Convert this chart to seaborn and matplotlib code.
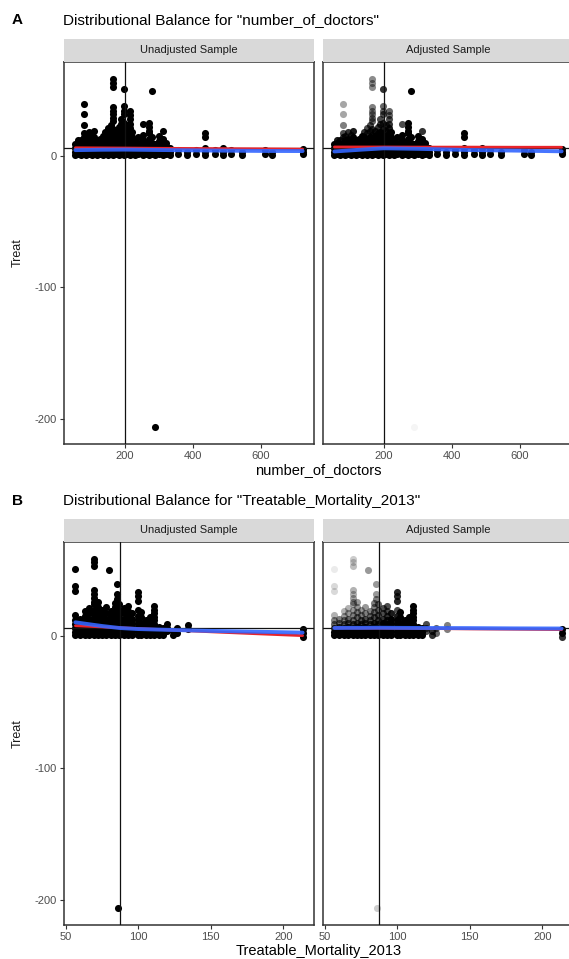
import matplotlib
matplotlib.use("Agg")
import matplotlib.pyplot as plt
import pandas as pd
import seaborn as sns

# ---------------------------------------------------------------------------
# Panel A: number_of_doctors vs Treat.  Each entry of doctors_x is a column of
# points at that x; doctors_treat holds the Treat values stacked in the column
# and doctors_weight the balancing weight of every point (used as opacity in
# the adjusted sample).
# ---------------------------------------------------------------------------
doctors_x = [54, 62, 70, 78, 86, 94, 102, 110, 118, 126, 134, 142, 150, 158,
             165, 174, 182, 190, 198, 206, 215, 222, 230, 240, 252, 262, 272,
             280, 289, 300, 313, 322, 334, 357, 382, 411, 436, 465, 490, 514,
             544, 613, 635, 724]
doctors_treat = [
    [0.5, 3, 6, 9],
    [1, 4, 7, 10, 12],
    [0.5, 3, 6, 9, 12],
    [1, 4, 7, 10, 14, 17, 23, 31.5, 39],
    [0.5, 3, 6, 9, 12, 15],
    [1, 4, 7, 10, 13, 18],
    [0.5, 3, 6, 9, 12, 16],
    [1, 4, 7, 10, 14, 19],
    [0.5, 3, 6, 9, 12],
    [1, 4, 7, 10, 13],
    [0.5, 3, 6, 9, 12, 15],
    [1, 4, 7, 10, 14, 18],
    [0.5, 3, 6, 9, 13, 17, 21],
    [1, 4, 7, 10, 14, 19, 23],
    [0.5, 3, 6, 9, 12, 16, 20, 26.5, 29, 31.5, 34, 37, 52, 55, 58],
    [1, 4, 7, 11, 15, 19],
    [0.5, 3, 6, 9, 13, 17, 22],
    [1, 4, 7, 10, 14, 18, 24, 28],
    [0.5, 3, 6, 9, 12, 16, 20, 25, 31.5, 34, 38, 50.5],
    [1, 4, 7, 10, 14, 19, 23],
    [0.5, 3, 6, 9, 13, 17, 21, 24, 28, 31, 34],
    [1, 4, 7, 10, 14, 18],
    [0.5, 3, 6, 9, 12],
    [1, 4, 7, 10, 14],
    [0.5, 3, 6, 9, 12, 16, 24],
    [1, 4, 7, 10],
    [0.5, 3, 6, 9, 13, 17, 19, 22, 25],
    [1, 4, 7, 10, 14, 49],
    [0.5, 3, 6, 9, -206],
    [1, 4, 7, 11, 15],
    [0.5, 3, 6, 9, 13, 19],
    [1, 4, 7, 10],
    [0.5, 3, 6],
    [1, 4],
    [0.5, 3],
    [1, 4],
    [0.5, 3, 6, 14, 17],
    [1, 4],
    [0.5, 3, 6],
    [1, 4],
    [0.5, 3],
    [1, 4],
    [0.5, 3],
    [1, 3, 5],
]
doctors_weight = [
    [1, 1, 1, 1],
    [1, 1, 1, 1, 0.9],
    [1, 1, 1, 1, 0.9],
    [1, 1, 1, 1, 0.8, 0.7, 0.5, 0.35, 0.35],
    [1, 1, 1, 1, 0.9, 0.8],
    [1, 1, 1, 1, 1, 0.8],
    [1, 1, 1, 1, 1, 0.8],
    [1, 1, 1, 1, 1, 0.9],
    [1, 1, 1, 1, 1],
    [1, 1, 1, 1, 1],
    [1, 1, 1, 1, 1, 1],
    [1, 1, 1, 1, 1, 0.8],
    [1, 1, 1, 1, 1, 0.8, 0.7],
    [1, 1, 1, 1, 1, 0.8, 0.7],
    [1, 1, 1, 1, 1, 0.9, 0.8, 0.6, 0.6, 0.55, 0.5, 0.5, 0.45, 0.45, 0.45],
    [1, 1, 1, 1, 1, 0.9],
    [1, 1, 1, 1, 1, 0.9, 0.8],
    [1, 1, 1, 1, 1, 1, 0.8, 0.7],
    [1, 1, 1, 1, 1, 1, 0.9, 0.8, 0.7, 0.6, 0.6, 0.8],
    [1, 1, 1, 1, 1, 0.9, 0.8],
    [1, 1, 1, 1, 1, 1, 0.9, 0.8, 0.7, 0.6, 0.6],
    [1, 1, 1, 1, 1, 1],
    [1, 1, 1, 1, 1],
    [1, 1, 1, 1, 1],
    [1, 1, 1, 1, 1, 1, 0.7],
    [1, 1, 1, 1],
    [1, 1, 1, 1, 1, 1, 1, 1, 1],
    [1, 1, 1, 1, 1, 1],
    [1, 1, 1, 1, 0.04],
    [1, 1, 1, 1, 1],
    [1, 1, 1, 1, 1, 0.8],
    [1, 1, 1, 1],
    [1, 1, 1],
    [1, 1],
    [1, 1],
    [1, 1],
    [1, 1, 1, 1, 1],
    [1, 1],
    [1, 1, 1],
    [1, 1],
    [1, 1],
    [1, 1],
    [1, 1],
    [1, 1, 1],
]

# ---------------------------------------------------------------------------
# Panel B: Treatable_Mortality_2013 vs Treat, same layout as above.
# ---------------------------------------------------------------------------
mortality_x = [56.6, 60, 63, 66, 69.7, 72, 75, 78, 79.6, 81, 84, 85, 85.8, 87,
               90, 93, 96, 99.8, 102, 105, 108, 111, 114, 117, 120, 124, 127,
               134, 213.4]
mortality_treat = [
    [0.5, 3, 6, 9, 12, 16, 33.7, 37.5, 51],
    [1, 4, 7, 10, 13],
    [0.5, 3, 6, 9, 12, 15, 19],
    [1, 4, 7, 10, 13, 17, 21],
    [0.5, 3, 6, 9, 12, 16, 20, 24, 26, 29, 32, 35, 52.7, 56, 58],
    [1, 4, 7, 10, 14, 18, 22, 26],
    [0.5, 3, 6, 9, 12, 16, 20],
    [1, 4, 7, 10, 13, 17, 22],
    [49.7],
    [0.5, 3, 6, 9, 12, 15, 19],
    [1, 4, 7, 10, 14, 18, 22, 25],
    [28, 32, 39.5],
    [-206],
    [0.5, 3, 6, 9, 12, 16, 20, 24],
    [1, 4, 7, 10, 13, 17, 21],
    [0.5, 3, 6, 9, 12, 15, 19, 23],
    [1, 4, 7, 10, 13, 17],
    [0.5, 3, 6, 9, 12, 15, 19.8, 26.6, 30, 33],
    [1, 4, 7, 10, 14, 18],
    [0.5, 3, 6, 9, 12],
    [1, 4, 7, 10, 14],
    [0.5, 3, 6, 9, 12, 14, 17, 20, 23],
    [1, 4, 7],
    [0.5, 3, 6],
    [4, 6, 9],
    [1, 4],
    [2, 6],
    [5, 8.5],
    [-1, 2, 5],
]
mortality_weight = [
    [1, 1, 0.8, 0.6, 0.5, 0.3, 0.15, 0.15, 0.08],
    [1, 1, 0.8, 0.6, 0.5],
    [1, 1, 0.9, 0.7, 0.5, 0.4, 0.3],
    [1, 1, 0.9, 0.7, 0.6, 0.4, 0.3],
    [1, 1, 0.9, 0.8, 0.6, 0.5, 0.4, 0.35, 0.4, 0.35, 0.3, 0.3, 0.25, 0.2, 0.2],
    [1, 1, 0.9, 0.8, 0.6, 0.5, 0.4, 0.4],
    [1, 1, 1, 0.8, 0.7, 0.5, 0.4],
    [1, 1, 1, 0.8, 0.7, 0.5, 0.4],
    [0.4],
    [1, 1, 1, 0.8, 0.7, 0.6, 0.5],
    [1, 1, 1, 0.9, 0.7, 0.6, 0.5, 0.5],
    [0.5, 0.4, 0.4],
    [0.2],
    [1, 1, 1, 0.9, 0.8, 0.7, 0.6, 0.6],
    [1, 1, 1, 1, 0.8, 0.7, 0.7],
    [1, 1, 1, 1, 0.9, 0.8, 0.7, 0.7],
    [1, 1, 1, 1, 1, 0.9],
    [1, 1, 1, 1, 1, 0.9, 0.7, 0.85, 0.85, 0.85],
    [1, 1, 1, 1, 1, 1],
    [1, 1, 1, 1, 1],
    [1, 1, 1, 1, 1],
    [1, 1, 1, 1, 1, 1, 1, 1, 1],
    [1, 1, 1],
    [1, 1, 1],
    [0.7, 0.7, 0.7],
    [0.8, 0.8],
    [0.6, 0.6],
    [0.5, 0.5],
    [0.8, 1, 1],
]

# Reference lines: mean of each covariate and of Treat
doctors_mean = 201
mortality_mean = 87.5
treat_mean = 5.9

# Fitted curves (red: linear fit, blue: smooth) for each panel
doctors_fit_x = [54, 130, 200, 300, 450, 600, 724]
doctors_lm_unadj = [6.0, 5.9, 5.8, 5.6, 5.4, 5.2, 5.0]
doctors_smooth_unadj = [4.2, 4.5, 4.6, 4.3, 3.9, 3.6, 3.5]
doctors_lm_adj = [6.6, 6.6, 6.6, 6.5, 6.5, 6.4, 6.4]
doctors_smooth_adj = [3.2, 4.5, 5.6, 5.2, 4.3, 3.8, 3.3]

mortality_fit_x = [56.6, 65, 75, 87, 100, 120, 150, 180, 213.4]
mortality_lm_unadj = [7.7, 7.3, 6.8, 6.2, 5.6, 4.6, 3.1, 1.7, 0.2]
mortality_smooth_unadj = [10.3, 9.0, 7.5, 6.0, 5.2, 4.6, 3.8, 3.2, 2.5]
mortality_lm_adj = [6.0, 6.0, 5.9, 5.9, 5.8, 5.6, 5.3, 5.1, 4.8]
mortality_smooth_adj = [6.0, 6.1, 6.1, 6.2, 6.1, 6.0, 5.9, 5.7, 5.6]

titles = ['Distributional Balance for "number_of_doctors"',
          'Distributional Balance for "Treatable_Mortality_2013"']
panel_tags = ["A", "B"]
facet_labels = ["Unadjusted Sample", "Adjusted Sample"]
y_ticks = [-200, -100, 0]
doctors_ticks = [200, 400, 600]
mortality_ticks = [50, 100, 150, 200]


def build_table(xs, ys, ws, name):
    rows = []
    for x, col_y, col_w in zip(xs, ys, ws):
        for y, w in zip(col_y, col_w):
            rows.append((x, y, w))
    return pd.DataFrame(rows, columns=[name, "Treat", "weight"])


def padded(values):
    lo, hi = min(values), max(values)
    span = hi - lo
    return lo - 0.05 * span, hi + 0.05 * span


sns.set_theme(style="white")
plt.rcParams["font.family"] = ["Liberation Sans", "DejaVu Sans"]
plt.rcParams["axes.unicode_minus"] = False

W, H = 569, 959
fig = plt.figure(figsize=(W / 100, H / 100), dpi=100)
fig.patch.set_facecolor("white")

RED = "#E8242B"
BLUE = "#3366FF"
TICK_GREY = "#4D4D4D"

panels = [
    dict(df=build_table(doctors_x, doctors_treat, doctors_weight, "number_of_doctors"),
         name="number_of_doctors", mean=doctors_mean, ticks=doctors_ticks,
         fit_x=doctors_fit_x,
         fits=[(doctors_lm_unadj, doctors_smooth_unadj),
               (doctors_lm_adj, doctors_smooth_adj)],
         top=62, bottom=444, title_y=20, xlabel_y=470),
    dict(df=build_table(mortality_x, mortality_treat, mortality_weight,
                        "Treatable_Mortality_2013"),
         name="Treatable_Mortality_2013", mean=mortality_mean, ticks=mortality_ticks,
         fit_x=mortality_fit_x,
         fits=[(mortality_lm_unadj, mortality_smooth_unadj),
               (mortality_lm_adj, mortality_smooth_adj)],
         top=542, bottom=925, title_y=501, xlabel_y=951),
]

facet_lefts = [64, 323]
facet_width = 250
strip_h = 23.5

for p_i, p in enumerate(panels):
    df = p["df"]
    xlim = padded(df[p["name"]].tolist())
    ylim = padded(df["Treat"].tolist())
    for f_i, left in enumerate(facet_lefts):
        ax = fig.add_axes([left / W, 1 - p["bottom"] / H,
                           facet_width / W, (p["bottom"] - p["top"]) / H])
        if f_i == 0:
            sns.scatterplot(data=df, x=p["name"], y="Treat", color="black",
                            s=26, linewidth=0, ax=ax, legend=False)
        else:
            for w, grp in df.groupby("weight"):
                sns.scatterplot(data=grp, x=p["name"], y="Treat", color="black",
                                s=26, linewidth=0, alpha=float(w), ax=ax,
                                legend=False)
        ax.axvline(p["mean"], color="#111111", lw=0.9, zorder=3)
        ax.axhline(treat_mean, color="#111111", lw=0.9, zorder=3)
        lm_y, smooth_y = p["fits"][f_i]
        sns.lineplot(x=p["fit_x"], y=lm_y, color=RED, lw=2.0, ax=ax, zorder=4)
        sns.lineplot(x=p["fit_x"], y=smooth_y, color=BLUE, lw=2.8, alpha=0.9,
                     ax=ax, zorder=5)
        ax.set_xlim(xlim)
        ax.set_ylim(ylim)
        ax.set_xticks(p["ticks"])
        ax.set_yticks(y_ticks)
        ax.set_xlabel("")
        ax.set_ylabel("")
        ax.tick_params(axis="both", which="both", length=3, width=0.8,
                       colors="#333333", labelcolor=TICK_GREY, labelsize=8,
                       pad=2, bottom=True, left=(f_i == 0),
                       labelleft=(f_i == 0))
        for sp in ax.spines.values():
            sp.set_color("#333333")
            sp.set_linewidth(1.1)
        ax.set_facecolor("white")

        # facet strip
        sax = fig.add_axes([left / W, 1 - p["top"] / H,
                            facet_width / W, strip_h / H])
        sax.set_facecolor("#D9D9D9")
        sax.set_xticks([])
        sax.set_yticks([])
        for sp in sax.spines.values():
            sp.set_visible(False)
        sax.text(0.5, 0.5, facet_labels[f_i], ha="center", va="center",
                 fontsize=8, color="#1A1A1A", transform=sax.transAxes)

    fig.text(12 / W, 1 - p["title_y"] / H, panel_tags[p_i], fontsize=11,
             fontweight="bold", ha="left", va="center", color="black")
    fig.text(63 / W, 1 - p["title_y"] / H, titles[p_i], fontsize=11,
             ha="left", va="center", color="black")
    fig.text(318.5 / W, 1 - p["xlabel_y"] / H, p["name"], fontsize=10.5,
             ha="center", va="center", color="black")
    fig.text(18 / W, 1 - (p["top"] + p["bottom"]) / 2 / H, "Treat", fontsize=9,
             rotation=90, ha="center", va="center", color="#1A1A1A")

fig.savefig("out.png", dpi=100, facecolor="white")
